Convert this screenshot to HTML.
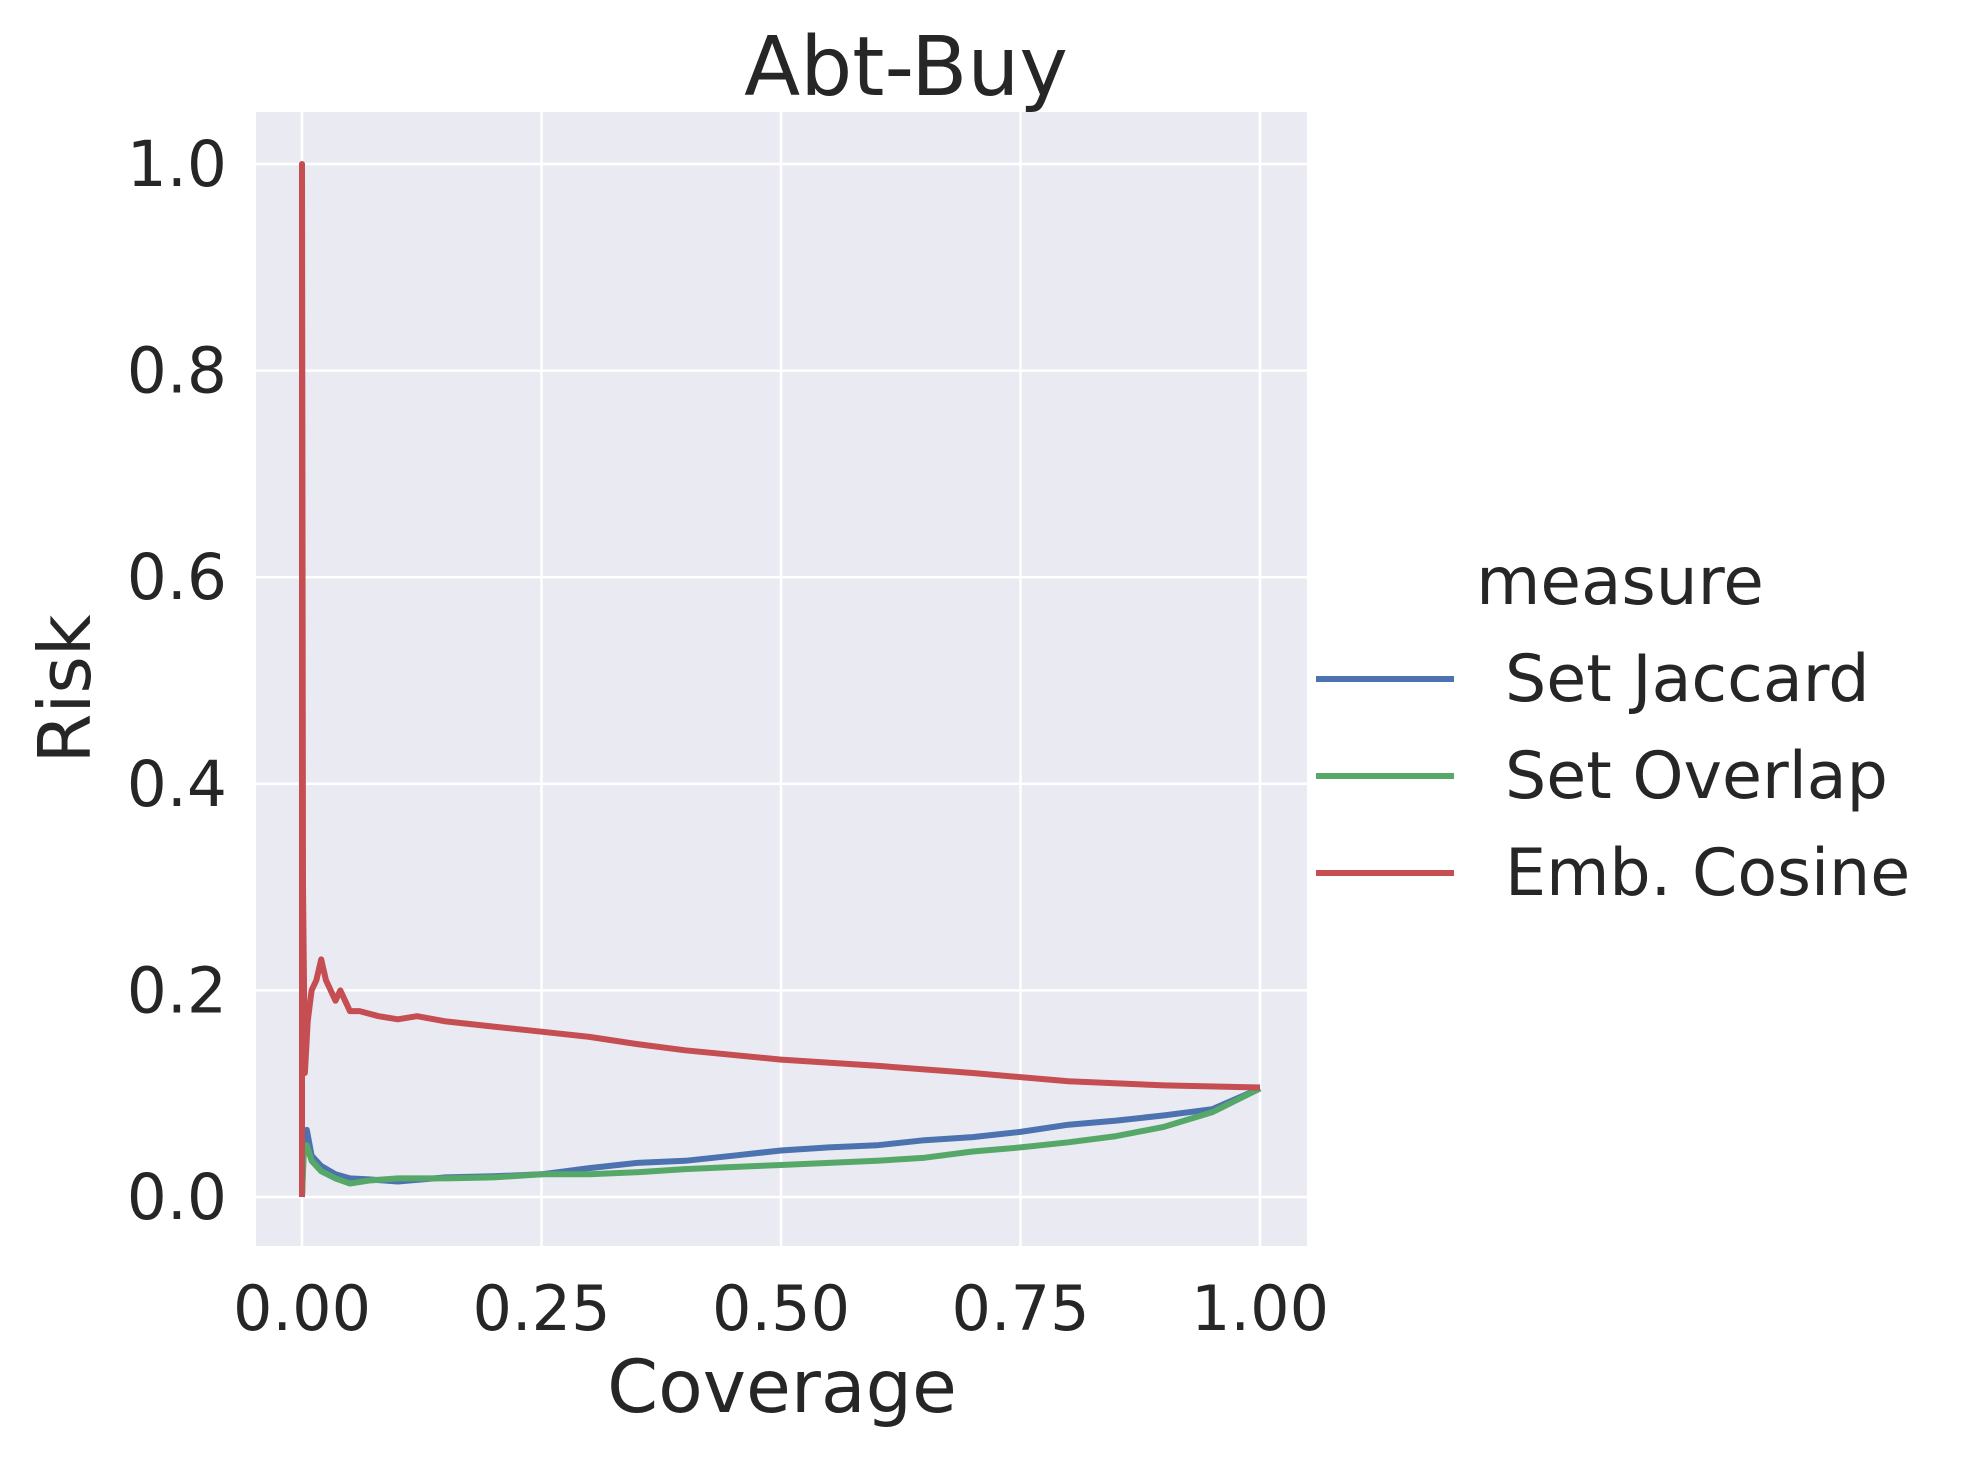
<!DOCTYPE html>
<html><head><meta charset="utf-8"><style>
body{margin:0;background:#fff}
svg text{font-family:"DejaVu Sans","Liberation Sans",sans-serif;fill:#262626}
</style></head><body>
<svg id="chart" width="1980" height="1458" viewBox="0 0 1980 1458" xmlns="http://www.w3.org/2000/svg">
<rect x="256" y="112" width="1051" height="1134" fill="#EAEAF2"/>
<g id="grid"></g><g id="lines"></g><g id="ticks"></g>
<text x="906" y="95" font-size="82" text-anchor="middle">Abt-Buy</text>
<text x="782" y="1412" font-size="73" text-anchor="middle">Coverage</text>
<text x="0" y="0" font-size="72" text-anchor="middle" transform="translate(90,689) rotate(-90)">Risk</text>
<g>
<text x="1620" y="604" font-size="66" text-anchor="middle">measure</text>
<g id="legend-items"></g>
</g>
</svg>
<script>
const xTicks=[0,0.25,0.5,0.75,1.0];
const xTickLabels=["0.00","0.25","0.50","0.75","1.00"];
const yTicks=[0,0.2,0.4,0.6,0.8,1.0];
const yTickLabels=["0.0","0.2","0.4","0.6","0.8","1.0"];
const seriesNames=["Set Jaccard","Set Overlap","Emb. Cosine"];
const jaccardX=[0,0.002,0.005,0.01,0.02,0.035,0.05,0.07,0.1,0.15,0.2,0.25,0.3,0.35,0.4,0.45,0.5,0.55,0.6,0.65,0.7,0.75,0.8,0.85,0.9,0.95,1.0];
const jaccardY=[0,0.06,0.065,0.04,0.03,0.022,0.018,0.017,0.015,0.019,0.02,0.022,0.028,0.033,0.035,0.04,0.045,0.048,0.05,0.055,0.058,0.063,0.07,0.074,0.079,0.085,0.105];
const overlapX=[0,0.002,0.005,0.01,0.02,0.035,0.05,0.07,0.1,0.15,0.2,0.25,0.3,0.35,0.4,0.45,0.5,0.55,0.6,0.65,0.7,0.75,0.8,0.85,0.9,0.95,1.0];
const overlapY=[0,0.045,0.05,0.035,0.025,0.018,0.013,0.016,0.018,0.018,0.019,0.022,0.022,0.024,0.027,0.029,0.031,0.033,0.035,0.038,0.044,0.048,0.053,0.059,0.068,0.082,0.105];
const cosineX=[0,0,0.001,0.003,0.006,0.01,0.015,0.02,0.025,0.03,0.035,0.04,0.045,0.05,0.06,0.08,0.1,0.12,0.15,0.2,0.25,0.3,0.35,0.4,0.5,0.6,0.7,0.8,0.9,1.0];
const cosineY=[0,1.0,0.3,0.12,0.17,0.2,0.21,0.23,0.21,0.2,0.19,0.2,0.19,0.18,0.18,0.175,0.172,0.175,0.17,0.165,0.16,0.155,0.148,0.142,0.133,0.127,0.12,0.112,0.108,0.106];
const colors=["#4C72B0","#55A868","#C44E52"];
const sx=v=>302+v*(1260-302);
const sy=v=>1197-v*(1197-164);
const NS="http://www.w3.org/2000/svg";
function mk(t,a){const e=document.createElementNS(NS,t);for(const k in a)e.setAttribute(k,a[k]);return e;}
const grid=document.getElementById('grid'),ticks=document.getElementById('ticks');
xTicks.forEach((v,i)=>{
 const l=mk('line',{x1:sx(v),x2:sx(v),y1:112,y2:1246,stroke:'#fff','stroke-width':2.5});
 
 
 grid.appendChild(l);
 const t=mk('text',{x:sx(v),y:1330,'font-size':62,'text-anchor':'middle'});
 
 
 t.textContent=xTickLabels[i];ticks.appendChild(t);
});
yTicks.forEach((v,i)=>{
 const l=mk('line',{x1:256,x2:1307,y1:sy(v),y2:sy(v),stroke:'#fff','stroke-width':2.5});
 
 
 grid.appendChild(l);
 const t=mk('text',{x:227,y:sy(v)+22,'font-size':63,'text-anchor':'end'});
 
 
 t.textContent=yTickLabels[i];ticks.appendChild(t);
});
const lines=document.getElementById('lines');
[[jaccardX,jaccardY],[overlapX,overlapY],[cosineX,cosineY]].forEach((s,i)=>{
 const d=s[0].map((x,j)=>(j?'L':'M')+sx(x).toFixed(1)+' '+sy(s[1][j]).toFixed(1)).join(' ');
 const p=mk('path',{d:d,fill:'none',stroke:colors[i],'stroke-width':6,'stroke-linejoin':'round'});
 
 
 lines.appendChild(p);
});
const li=document.getElementById('legend-items');
seriesNames.forEach((n,i)=>{
 const y=679+i*97;
 const l=mk('line',{x1:1316,x2:1454,y1:y,y2:y,stroke:colors[i],'stroke-width':6});
 
 
 li.appendChild(l);
 const t=mk('text',{x:1505,y:y+22,'font-size':65});
 
 
 t.textContent=n;li.appendChild(t);
});
</script>
</body></html>
